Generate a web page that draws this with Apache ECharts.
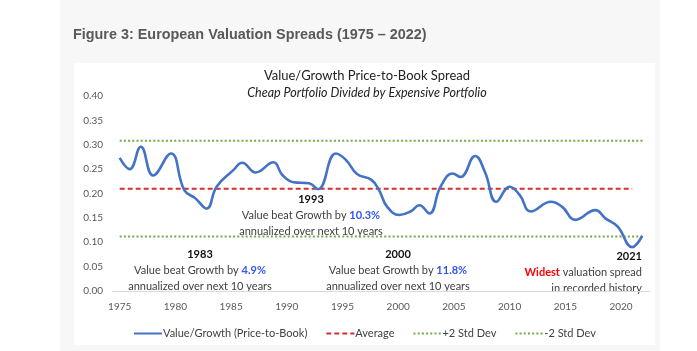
<!DOCTYPE html>
<html>
<head>
<meta charset="utf-8">
<script src="https://cdn.jsdelivr.net/npm/echarts@6/dist/echarts.min.js"></script>
<style>
html, body { margin: 0; padding: 0; background: #fff; }
#main { width: 697px; height: 351px; }
</style>
</head>
<body>
<div id="main"></div>
<script>
var chart = echarts.init(document.getElementById('main'));

// value / growth price-to-book spread
var years = [1975.0, 1975.9, 1976.9, 1978.0, 1979.6, 1980.8, 1981.8, 1982.8, 1983.7, 1985.2,
	1986.0, 1987.2, 1988.8, 1989.6, 1990.6, 1992.0, 1992.8, 1994.4, 1995.3, 1996.3,
	1997.6, 1998.3, 1999.0, 2000.1, 2001.1, 2001.9, 2002.8, 2003.8, 2004.9, 2005.6,
	2006.9, 2007.8, 2008.8, 2010.0, 2010.9, 2011.9, 2013.7, 2014.7, 2015.9, 2017.7,
	2018.6, 2019.7, 2021.0, 2021.9];
var spread = [0.273, 0.250, 0.296, 0.237, 0.282, 0.207, 0.190, 0.169, 0.214, 0.248,
	0.263, 0.243, 0.264, 0.238, 0.223, 0.221, 0.209, 0.282, 0.269, 0.240,
	0.228, 0.206, 0.173, 0.156, 0.163, 0.176, 0.159, 0.214, 0.241, 0.234,
	0.277, 0.243, 0.183, 0.214, 0.197, 0.163, 0.183, 0.173, 0.146, 0.166,
	0.149, 0.132, 0.090, 0.113];
var average = 0.210;
var plus2sd = 0.308;
var minus2sd = 0.112;
var avgYears = [1975, 2021];
var sdYears = [1975, 2022];
var xLabels = [1975, 1980, 1985, 1990, 1995, 2000, 2005, 2010, 2015, 2020];

var lineData = years.map(function(y, i) { return [y, spread[i]]; });
function flat(yrs, v) {
	return yrs.map(function(y) { return [y, v]; });
}

var txt = '#404040';
var font = 'Lato, "Open Sans", sans-serif';

function note(x, y, align, lines) {
	return {
		type: 'text',
		x: x,
		y: y,
		style: {
			text: lines.join('\n'),
			align: align,
			verticalAlign: 'middle',
			fontFamily: font,
			fontSize: 11,
			fill: txt,
			lineHeight: 16,
			rich: {
				b: { fontFamily: font, fontSize: 11, fontWeight: 'bold', fill: '#111' },
				blue: { fontFamily: font, fontSize: 11, fontWeight: 'bold', fill: '#3355ee' },
				red: { fontFamily: font, fontSize: 11, fontWeight: 'bold', fill: '#ff0000' },
				n: { fontFamily: font, fontSize: 11, fill: txt }
			}
		}
	};
}

option = {
	backgroundColor: '#ffffff',
	animation: false,
	grid: {
		left: 113,
		right: 47,
		top: 96,
		bottom: 60
	},
	xAxis: {
		type: 'value',
		min: 1974.4,
		max: 2022.6,
		splitLine: { show: false },
		axisTick: { show: false },
		axisLine: { lineStyle: { color: '#d9d9d9', width: 1 } },
		axisLabel: {
			customValues: xLabels,
			color: '#595959',
			fontFamily: font,
			fontSize: 10,
			margin: 11,
			formatter: function(v) { return String(Math.round(v)); }
		}
	},
	yAxis: {
		type: 'value',
		min: 0,
		max: 0.4,
		interval: 0.05,
		splitLine: { show: false },
		axisLine: { show: false },
		axisTick: { show: false },
		axisLabel: {
			color: '#595959',
			fontFamily: font,
			fontSize: 10,
			margin: 10,
			formatter: function(v) { return v.toFixed(2); }
		}
	},
	legend: {
		left: 128,
		top: 323,
		itemWidth: 28,
		itemHeight: 10,
		itemGap: 18,
		itemStyle: { opacity: 0 },
		textStyle: { color: txt, fontFamily: font, fontSize: 11, padding: [0, 0, 0, -4] },
		data: ['Value/Growth (Price-to-Book)', 'Average', '+2 Std Dev', '-2 Std Dev']
	},
	graphic: [
		{ type: 'rect', z: -10, shape: { x: 60, y: 0, width: 600, height: 351 }, style: { fill: '#f7f7f7' } },
		{ type: 'rect', z: -9, shape: { x: 74, y: 63, width: 581, height: 282 }, style: { fill: '#ffffff' } },
		{
			type: 'text', x: 73, y: 35,
			style: {
				text: 'Figure 3: European Valuation Spreads (1975 \u2013 2022)',
				fontFamily: '"Liberation Sans", Arial, sans-serif',
				fontWeight: 'bold', fontSize: 14.4, fill: '#595959', verticalAlign: 'middle'
			}
		},
		{
			type: 'text', x: 367, y: 76,
			style: {
				text: 'Value/Growth Price-to-Book Spread',
				fontFamily: font, fontSize: 13, fill: '#222', align: 'center', verticalAlign: 'middle'
			}
		},
		{
			type: 'text', x: 367, y: 93,
			style: {
				text: 'Cheap Portfolio Divided by Expensive Portfolio',
				fontFamily: font, fontStyle: 'italic', fontSize: 12.5, fill: '#222', align: 'center', verticalAlign: 'middle'
			}
		},
		note(311, 215, 'center', ['{b|1993}', 'Value beat Growth by {blue|10.3%}', 'annualized over next 10 years']),
		note(200, 270, 'center', ['{b|1983}', 'Value beat Growth by {blue|4.9%}', 'annualized over next 10 years']),
		note(398, 270, 'center', ['{b|2000}', 'Value beat Growth by {blue|11.8%}', 'annualized over next 10 years']),
		note(642, 272, 'right', ['{b|2021}', '{red|Widest} valuation spread', 'in recorded history'])
	],
	series: [
		{
			name: 'Value/Growth (Price-to-Book)',
			type: 'line',
			smooth: 0.45,
			symbol: 'none',
			data: lineData,
			lineStyle: { color: '#4472c4', width: 2.6 },
			itemStyle: { color: '#4472c4' },
			z: 5
		},
		{
			name: 'Average',
			type: 'line',
			symbol: 'none',
			data: flat(avgYears, average),
			lineStyle: { color: '#d32f2f', width: 2, type: [5, 3] },
			itemStyle: { color: '#d32f2f' }
		},
		{
			name: '+2 Std Dev',
			type: 'line',
			symbol: 'none',
			data: flat(sdYears, plus2sd),
			lineStyle: { color: '#70ad47', width: 2, type: [2, 2.2] },
			itemStyle: { color: '#70ad47' }
		},
		{
			name: '-2 Std Dev',
			type: 'line',
			symbol: 'none',
			data: flat(sdYears, minus2sd),
			lineStyle: { color: '#70ad47', width: 2, type: [2, 2.2] },
			itemStyle: { color: '#70ad47' }
		}
	]
};

chart.setOption(option);
</script>
</body>
</html>
